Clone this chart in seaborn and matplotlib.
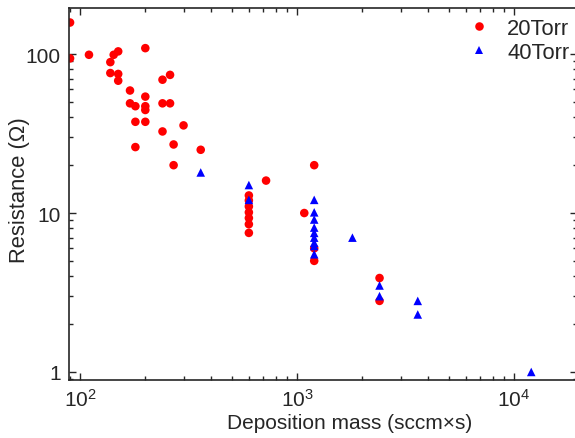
import numpy as np
import pandas as pd
import matplotlib
matplotlib.use("Agg")
import matplotlib.pyplot as plt
import matplotlib.ticker as mticker
import seaborn as sns

# 20 Torr series (deposition mass, resistance)
mass_20 = [90, 90, 110, 143, 150, 138, 200, 138, 150, 150, 240, 260, 170, 170,
           180, 200, 200, 200, 240, 260, 180, 200, 240, 300, 180, 270, 270, 360,
           1200, 720, 600, 600, 600, 600, 600, 600, 600, 1080, 1200, 1200,
           2400, 2400]
res_20 = [158, 94, 99, 99, 104, 89, 109, 76, 75, 68, 69, 74, 59, 49,
          47, 54, 47, 44.5, 49, 49, 37.5, 37.5, 32.6, 35.6, 26, 27, 20, 25,
          20, 16, 12.9, 12, 11, 10.1, 9.3, 8.5, 7.5, 10, 6.0, 5.0,
          3.9, 2.8]

# 40 Torr series
mass_40 = [360, 600, 600, 1200, 1200, 1200, 1200, 1200, 1200, 1200, 1200, 1200,
           1800, 2400, 2400, 3600, 3600, 12000]
res_40 = [18, 15, 12.1, 12.1, 10.1, 9.1, 8.1, 7.5, 7.0, 6.5, 6.2, 5.5,
          7.0, 3.5, 3.0, 2.8, 2.3, 1.0]

df = pd.DataFrame({
    "mass": mass_20 + mass_40,
    "R": res_20 + res_40,
    "pressure": ["20Torr"] * len(mass_20) + ["40Torr"] * len(mass_40),
})

sns.set_style("ticks")
plt.rcParams["font.family"] = ["Liberation Sans", "DejaVu Sans"]
plt.rcParams["font.size"] = 15

W, H = 575, 439
fig = plt.figure(figsize=(W / 100, H / 100), dpi=100)
ax = fig.add_axes([69 / W, 1 - 381 / H, (577 - 69) / W, (381 - 9) / H])

sns.scatterplot(data=df, x="mass", y="R", hue="pressure", style="pressure",
                palette={"20Torr": "#ff0000", "40Torr": "#0000ff"},
                markers={"20Torr": "o", "40Torr": "^"},
                s=38, linewidth=0, ax=ax)

ax.set_xscale("log")
ax.set_yscale("log")
ax.set_xlim(89, 19500)
ax.set_ylim(0.89, 195)

ax.yaxis.set_major_locator(mticker.LogLocator(base=10))
ax.yaxis.set_major_formatter(mticker.FuncFormatter(lambda v, p: f"{v:g}"))
ax.yaxis.set_minor_locator(mticker.LogLocator(base=10, subs=np.arange(2, 10)))
ax.yaxis.set_minor_formatter(mticker.NullFormatter())
ax.xaxis.set_minor_locator(mticker.LogLocator(base=10, subs=np.arange(2, 10)))
ax.xaxis.set_minor_formatter(mticker.NullFormatter())

ax.tick_params(which="both", direction="in", top=True, right=True, width=1,
               labelsize=15)
ax.tick_params(which="major", length=5, pad=6)
ax.tick_params(which="minor", length=3)
for sp in ax.spines.values():
    sp.set_linewidth(1.2)

ax.set_xlabel("Deposition mass (sccm\u00d7s)", fontsize=15)
ax.set_ylabel("Resistance (\u03a9)", fontsize=15.8)
ax.xaxis.set_label_coords((350 - 69) / 508, -0.09)
ax.yaxis.set_label_coords(-0.077, 0.512)

handles, labels = ax.get_legend_handles_labels()
ax.legend(handles, labels, loc="upper left", bbox_to_anchor=(0.733, 1.015),
          frameon=False, fontsize=15.8, handletextpad=0.3, labelspacing=0.15,
          markerscale=1.0, borderaxespad=0.3)

fig.savefig("out.png", dpi=100)
